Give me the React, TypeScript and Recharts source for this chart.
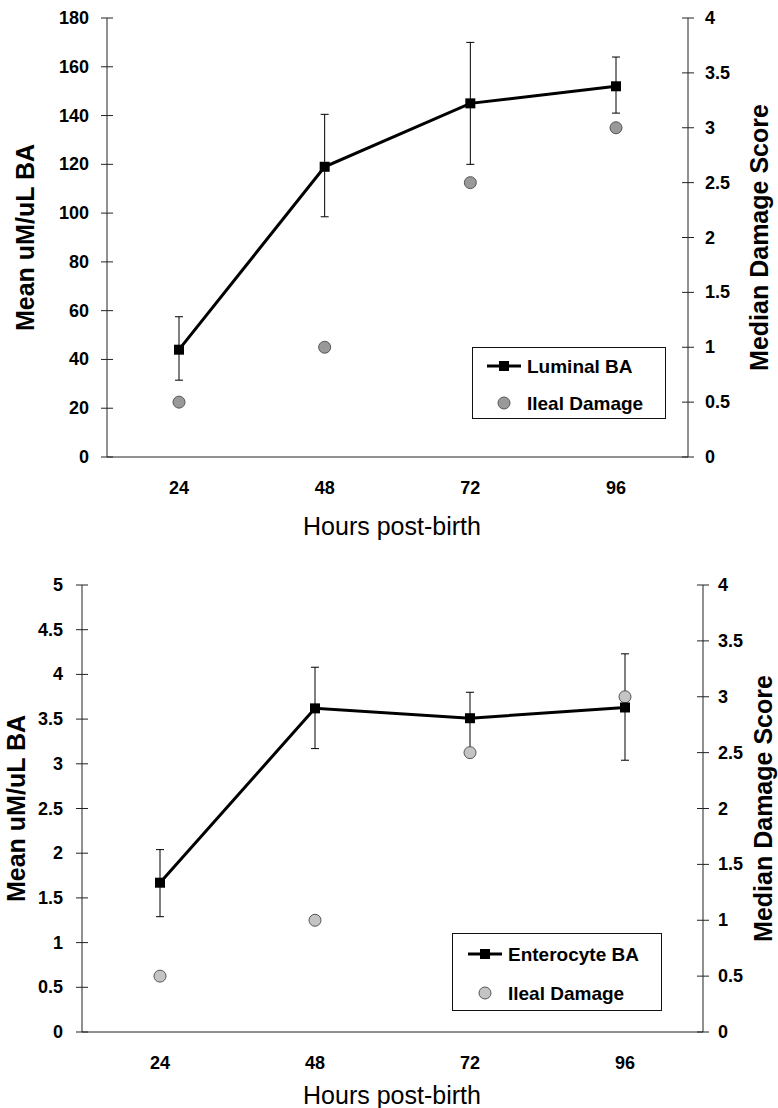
import React from "react";
import {
  ComposedChart,
  Line,
  Scatter,
  XAxis,
  YAxis,
  ErrorBar,
  Label,
} from "recharts";

// ================= Data =================
const hours = ["24", "48", "72", "96"];

// top panel: luminal bile acids (left axis) + ileal damage (right axis)
const luminalBA = [44, 119, 145, 152];
const luminalLow = [31.5, 98.5, 120, 141];
const luminalHigh = [57.5, 140.5, 170, 164];
const ilealTop = [0.5, 1, 2.5, 3];

// bottom panel: enterocyte bile acids + ileal damage
const enterocyteBA = [1.67, 3.62, 3.51, 3.63];
const enterocyteLow = [1.29, 3.17, 3.14, 3.04];
const enterocyteHigh = [2.04, 4.08, 3.8, 4.23];
const ilealBottom = [0.5, 1, 2.5, 3];

const leftTicksTop = [0, 20, 40, 60, 80, 100, 120, 140, 160, 180];
const leftTicksBottom = [0, 0.5, 1, 1.5, 2, 2.5, 3, 3.5, 4, 4.5, 5];
const rightTicks = [0, 0.5, 1, 1.5, 2, 2.5, 3, 3.5, 4];

const FONT = '"Liberation Sans", Arial, Helvetica, sans-serif';

const buildRows = (vals: number[], lo: number[], hi: number[], ileal: number[]) =>
  hours.map((h, i) => ({
    hour: h,
    ba: vals[i],
    err: [vals[i] - lo[i], hi[i] - vals[i]],
    ileal: ileal[i],
  }));

const topData = buildRows(luminalBA, luminalLow, luminalHigh, ilealTop);
const bottomData = buildRows(enterocyteBA, enterocyteLow, enterocyteHigh, ilealBottom);

// cross-style tick mark (Excel look) + bold label
const makeTick = (side: "left" | "right", margin: number) => (props: any) => {
  const { x, y, payload } = props;
  const ax = side === "left" ? x + margin : x - margin;
  return (
    <g>
      <line x1={ax - 6} x2={ax + 6} y1={y} y2={y} stroke="#222" strokeWidth={1} />
      <text
        x={x}
        y={y}
        dy={6}
        textAnchor={side === "left" ? "end" : "start"}
        fontFamily={FONT}
        fontWeight="bold"
        fontSize={18}
        fill="#000"
      >
        {payload.value}
      </text>
    </g>
  );
};

const vTitle = (text: string, x: number) => (props: any) => {
  const vb = props.viewBox || {};
  const y = vb.y + vb.height / 2;
  return (
    <text
      x={x}
      y={y}
      transform={`rotate(-90 ${x} ${y})`}
      textAnchor="middle"
      fontFamily={FONT}
      fontWeight="bold"
      fontSize={25}
      fill="#000"
    >
      {text}
    </text>
  );
};

const hTitle = (x: number, y: number) => () => (
  <text x={x} y={y} textAnchor="middle" fontFamily={FONT} fontSize={25} fill="#000">
    Hours post-birth
  </text>
);

const LegendBox = ({ label, circleFill, left, top, w, h, row1, row2, symX, textX }: any) => (
  <div
    style={{
      position: "absolute",
      left,
      top,
      width: w,
      height: h,
      border: "1px solid #111",
      boxSizing: "border-box",
      background: "#fff",
    }}
  >
    <svg width={w - 2} height={h - 2} style={{ position: "absolute", left: 0, top: 0 }}>
      <line x1={symX - 17} x2={symX + 17} y1={row1} y2={row1} stroke="#000" strokeWidth={3} />
      <rect x={symX - 5} y={row1 - 5} width={10} height={10} fill="#000" />
      <circle cx={symX} cy={row2} r={6} fill={circleFill} stroke="#555" strokeWidth={1} />
      <text x={textX} y={row1 + 7} fontFamily={FONT} fontWeight="bold" fontSize={19}>
        {label}
      </text>
      <text x={textX} y={row2 + 7} fontFamily={FONT} fontWeight="bold" fontSize={19}>
        Ileal Damage
      </text>
    </svg>
  </div>
);

const squareDot = (p: any) => (
  <rect key={`sq-${p.index}`} x={p.cx - 5} y={p.cy - 5} width={10} height={10} fill="#000" />
);

const circleShape = (fill: string) => (p: any) => (
  <circle cx={p.cx} cy={p.cy} r={6} fill={fill} stroke="#555" strokeWidth={1} />
);

const App = () => {
  return (
    <div style={{ position: "absolute", left: 0, top: 0, width: 778, height: 1108, background: "#fff" }}>
      {/* Top panel */}
      <div style={{ position: "absolute", left: 0, top: 0 }}>
        <ComposedChart
          width={778}
          height={560}
          data={topData}
          margin={{ top: 18, right: 30, bottom: 63, left: 50 }}
        >
          <XAxis
            dataKey="hour"
            height={40}
            padding={{ left: 72, right: 72 }}
            axisLine={{ stroke: "#222" }}
            tickLine={false}
            tickSize={0}
            tickMargin={24}
            tick={{ fill: "#000", fontSize: 18, fontWeight: "bold", fontFamily: FONT }}
          >
            <Label content={hTitle(392, 535)} />
          </XAxis>
          <YAxis
            yAxisId="left"
            width={57}
            domain={[0, 180]}
            ticks={leftTicksTop}
            axisLine={{ stroke: "#222" }}
            tickLine={false}
            tickSize={0}
            tickMargin={18}
            tick={makeTick("left", 18)}
            interval={0}
          >
            <Label content={vTitle("Mean uM/uL BA", 34)} />
          </YAxis>
          <YAxis
            yAxisId="right"
            orientation="right"
            width={60}
            domain={[0, 4]}
            ticks={rightTicks}
            axisLine={{ stroke: "#222" }}
            tickLine={false}
            tickSize={0}
            tickMargin={17}
            tick={makeTick("right", 17)}
            interval={0}
          >
            <Label content={vTitle("Median Damage Score", 768)} />
          </YAxis>
          <Line
            yAxisId="left"
            dataKey="ba"
            type="linear"
            stroke="#000"
            strokeWidth={3}
            dot={squareDot}
            activeDot={false}
            isAnimationActive={false}
          >
            <ErrorBar dataKey="err" width={4} stroke="#000" strokeWidth={1} direction="y" />
          </Line>
          <Scatter
            yAxisId="right"
            dataKey="ileal"
            shape={circleShape("#999999")}
            isAnimationActive={false}
          />
        </ComposedChart>
        <LegendBox
          label="Luminal BA"
          circleFill="#999999"
          left={472}
          top={347}
          w={194}
          h={72}
          row1={18}
          row2={55}
          symX={31}
          textX={54}
        />
      </div>

      {/* Bottom panel */}
      <div style={{ position: "absolute", left: 0, top: 555 }}>
        <ComposedChart
          width={778}
          height={553}
          data={bottomData}
          margin={{ top: 30, right: 15, bottom: 36, left: 25 }}
        >
          <XAxis
            dataKey="hour"
            height={40}
            padding={{ left: 78, right: 78 }}
            axisLine={{ stroke: "#222" }}
            tickLine={false}
            tickSize={0}
            tickMargin={24}
            tick={{ fill: "#000", fontSize: 18, fontWeight: "bold", fontFamily: FONT }}
          >
            <Label content={hTitle(392, 549)} />
          </XAxis>
          <YAxis
            yAxisId="left"
            width={57}
            domain={[0, 5]}
            ticks={leftTicksBottom}
            axisLine={{ stroke: "#222" }}
            tickLine={false}
            tickSize={0}
            tickMargin={19}
            tick={makeTick("left", 19)}
            interval={0}
          >
            <Label content={vTitle("Mean uM/uL BA", 25)} />
          </YAxis>
          <YAxis
            yAxisId="right"
            orientation="right"
            width={60}
            domain={[0, 4]}
            ticks={rightTicks}
            axisLine={{ stroke: "#222" }}
            tickLine={false}
            tickSize={0}
            tickMargin={15}
            tick={makeTick("right", 15)}
            interval={0}
          >
            <Label content={vTitle("Median Damage Score", 772)} />
          </YAxis>
          <Line
            yAxisId="left"
            dataKey="ba"
            type="linear"
            stroke="#000"
            strokeWidth={3}
            dot={squareDot}
            activeDot={false}
            isAnimationActive={false}
          >
            <ErrorBar dataKey="err" width={4} stroke="#000" strokeWidth={1} direction="y" />
          </Line>
          <Scatter
            yAxisId="right"
            dataKey="ileal"
            shape={circleShape("#c4c4c4")}
            isAnimationActive={false}
          />
        </ComposedChart>
        <LegendBox
          label="Enterocyte BA"
          circleFill="#c4c4c4"
          left={452}
          top={378}
          w={210}
          h={78}
          row1={20}
          row2={59}
          symX={32}
          textX={55}
        />
      </div>
    </div>
  );
};

export default App;
